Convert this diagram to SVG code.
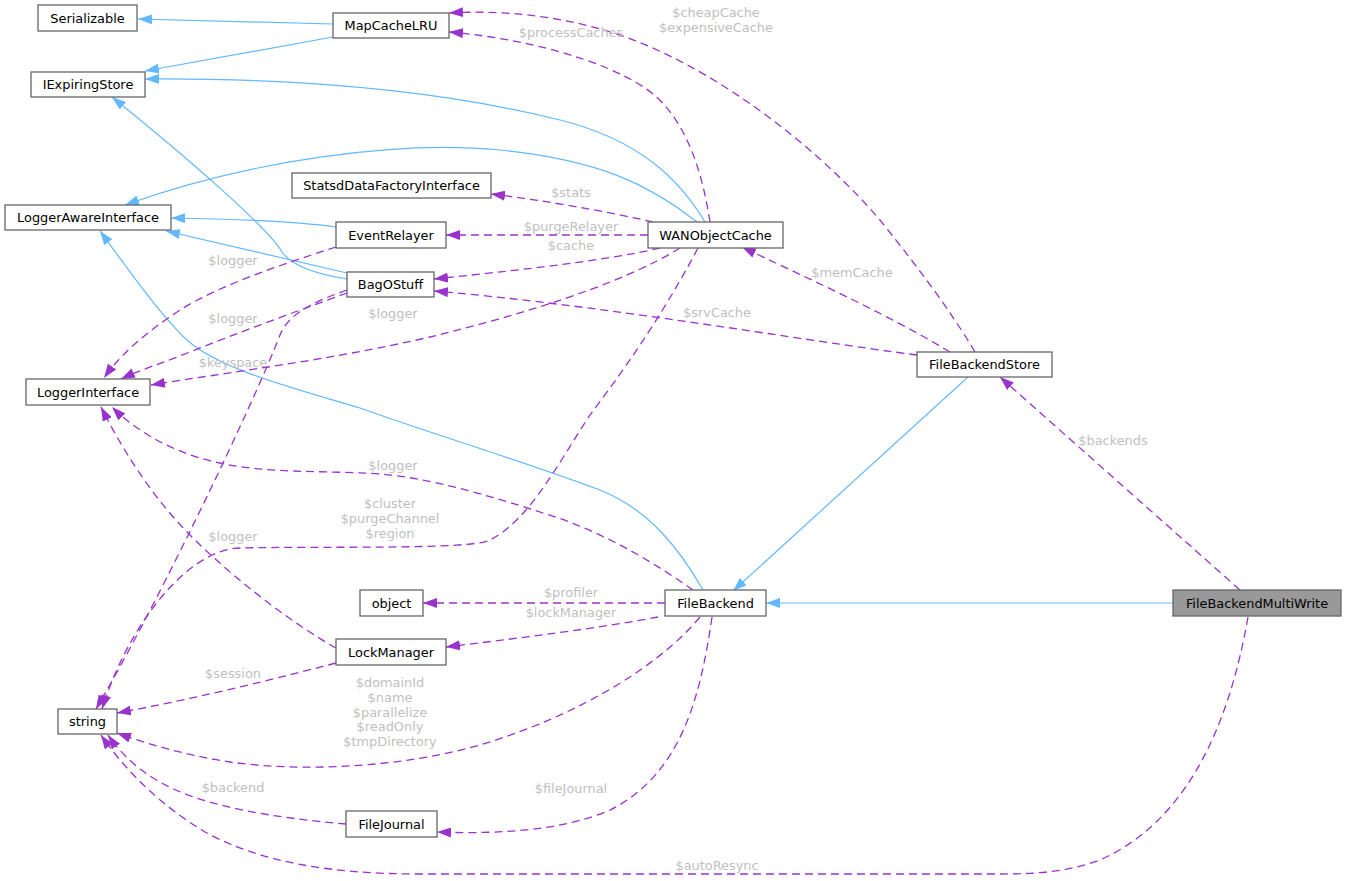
<svg xmlns="http://www.w3.org/2000/svg" width="1347" height="881" viewBox="0 0 1347 881">
<style>
.n rect{fill:#ffffff;stroke:#666666;stroke-width:1.3}
.n text{font-family:"DejaVu Sans",sans-serif;font-size:12.9px;fill:#000000;text-anchor:middle}
.hl rect{fill:#999999}
.e path{fill:none}
.inh{stroke:#63b8ff;stroke-width:1.2;marker-end:url(#ab)}
.use{stroke:#9a32cd;stroke-width:1.3;stroke-dasharray:8,5;marker-end:url(#ap)}
.lbl{font-family:"DejaVu Sans",sans-serif;font-size:12.9px;fill:#c0c0c0;text-anchor:middle}
</style>
<defs>
<marker id="ab" markerWidth="14" markerHeight="10" refX="14" refY="5" orient="auto" markerUnits="userSpaceOnUse"><path d="M0,0 L14,5 L0,10 z" fill="#63b8ff"/></marker>
<marker id="ap" markerWidth="14" markerHeight="10" refX="14" refY="5" orient="auto" markerUnits="userSpaceOnUse"><path d="M0,0 L14,5 L0,10 z" fill="#9a32cd"/></marker>
</defs>
<rect x="0" y="0" width="1347" height="881" fill="#ffffff"/>
<g id="edges" class="e">
<path class="inh" d="M333,24 L138,19"/>
<path class="inh" d="M333,37 L145,71"/>
<path class="inh" d="M705,222 C680,180 640,140 560,120 C440,90 300,78 145,79"/>
<path class="inh" d="M697,222 C650,185 600,160 500,150 C400,140 250,160 125,205"/>
<path class="inh" d="M336,227 C300,222 240,219 171,218"/>
<path class="inh" d="M347,273 L166,231"/>
<path class="inh" d="M347,279 C315,274 292,266 282,252 C268,228 190,160 112,97"/>
<path class="inh" d="M703,590 C680,550 650,510 600,490 C520,460 420,430 360,408 C300,390 220,370 187,340 C160,315 125,265 100,231"/>
<path class="inh" d="M968,377 L733,591"/>
<path class="inh" d="M1173,603 L766,603"/>
<path class="use" d="M710,222 C702,170 685,115 645,88 C600,58 520,38 449,32"/>
<path class="use" d="M975,352 C950,310 920,270 880,220 C820,150 720,70 620,35 C560,15 500,10 449,13"/>
<path class="use" d="M653,222 C600,210 540,200 491,194"/>
<path class="use" d="M648,235 L446,235"/>
<path class="use" d="M660,248 C600,262 500,272 434,279"/>
<path class="use" d="M917,355 C800,340 600,305 434,291"/>
<path class="use" d="M950,352 C880,310 800,275 742,247"/>
<path class="use" d="M680,248 C620,285 520,315 430,337 C330,360 230,372 151,385"/>
<path class="use" d="M336,247 C280,265 220,285 180,310 C145,333 120,355 104,378"/>
<path class="use" d="M347,293 C300,310 240,332 190,352 C165,362 140,370 121,379"/>
<path class="use" d="M347,290 C310,303 288,315 280,335 C255,400 160,600 96,709"/>
<path class="use" d="M698,248 C660,320 620,375 590,415 C560,460 530,520 490,540 C470,550 330,546 240,548 C190,549 130,620 102,709"/>
<path class="use" d="M693,590 C650,560 600,530 540,512 C490,496 430,478 380,474 C320,470 270,474 220,463 C180,455 140,435 112,407"/>
<path class="use" d="M336,648 C300,628 240,585 190,535 C150,495 120,445 101,407"/>
<path class="use" d="M665,603 L423,603"/>
<path class="use" d="M658,617 C600,628 520,638 446,647"/>
<path class="use" d="M700,617 C660,665 580,715 480,745 C400,768 300,772 230,762 C190,756 150,745 117,733"/>
<path class="use" d="M336,663 C290,675 200,698 117,713"/>
<path class="use" d="M712,617 C700,700 680,775 610,810 C560,832 490,834 437,832"/>
<path class="use" d="M346,824 C300,820 230,812 183,793 C150,780 125,760 108,735"/>
<path class="use" d="M1248,617 C1230,720 1190,820 1100,860 C1060,875 1020,874 980,874 L420,874 C330,874 260,862 205,832 C160,805 125,770 101,735"/>
<path class="use" d="M1240,590 L1000,377"/>
<text class="lbl" x="571" y="37">$processCaches</text>
<text class="lbl" x="716" y="17">$cheapCache</text>
<text class="lbl" x="716" y="32">$expensiveCache</text>
<text class="lbl" x="571" y="197">$stats</text>
<text class="lbl" x="571" y="231">$purgeRelayer</text>
<text class="lbl" x="571" y="250">$cache</text>
<text class="lbl" x="852" y="277">$memCache</text>
<text class="lbl" x="717" y="317">$srvCache</text>
<text class="lbl" x="233" y="265">$logger</text>
<text class="lbl" x="233" y="323">$logger</text>
<text class="lbl" x="393" y="318">$logger</text>
<text class="lbl" x="233" y="367">$keyspace</text>
<text class="lbl" x="393" y="470">$logger</text>
<text class="lbl" x="390" y="508">$cluster</text>
<text class="lbl" x="390" y="523">$purgeChannel</text>
<text class="lbl" x="390" y="538">$region</text>
<text class="lbl" x="233" y="541">$logger</text>
<text class="lbl" x="1113" y="445">$backends</text>
<text class="lbl" x="571" y="597">$profiler</text>
<text class="lbl" x="571" y="617">$lockManager</text>
<text class="lbl" x="390" y="687">$domainId</text>
<text class="lbl" x="390" y="702">$name</text>
<text class="lbl" x="390" y="717">$parallelize</text>
<text class="lbl" x="390" y="731">$readOnly</text>
<text class="lbl" x="390" y="746">$tmpDirectory</text>
<text class="lbl" x="233" y="678">$session</text>
<text class="lbl" x="233" y="792">$backend</text>
<text class="lbl" x="571" y="793">$fileJournal</text>
<text class="lbl" x="717" y="870">$autoResync</text>
</g>
<g id="Serializable" class="n"><rect x="38" y="5" width="99" height="26"/><text x="87.5" y="22.5">Serializable</text></g>
<g id="MapCacheLRU" class="n"><rect x="333" y="13" width="116" height="25"/><text x="391" y="30">MapCacheLRU</text></g>
<g id="IExpiringStore" class="n"><rect x="31" y="72" width="114" height="25"/><text x="88" y="89">IExpiringStore</text></g>
<g id="StatsdDataFactoryInterface" class="n"><rect x="292" y="173" width="199" height="25"/><text x="391.5" y="190">StatsdDataFactoryInterface</text></g>
<g id="LoggerAwareInterface" class="n"><rect x="5" y="205" width="166" height="25"/><text x="88" y="222">LoggerAwareInterface</text></g>
<g id="EventRelayer" class="n"><rect x="336" y="222" width="110" height="26"/><text x="391" y="239.5">EventRelayer</text></g>
<g id="WANObjectCache" class="n"><rect x="648" y="222" width="135" height="26"/><text x="715.5" y="239.5">WANObjectCache</text></g>
<g id="BagOStuff" class="n"><rect x="347" y="272" width="87" height="25"/><text x="390.5" y="289">BagOStuff</text></g>
<g id="FileBackendStore" class="n"><rect x="917" y="352" width="135" height="25"/><text x="984.5" y="369">FileBackendStore</text></g>
<g id="LoggerInterface" class="n"><rect x="26" y="379" width="124" height="26"/><text x="88" y="396.5">LoggerInterface</text></g>
<g id="object" class="n"><rect x="360" y="590" width="63" height="26"/><text x="391.5" y="607.5">object</text></g>
<g id="FileBackend" class="n"><rect x="665" y="590" width="101" height="26"/><text x="715.5" y="607.5">FileBackend</text></g>
<g id="FileBackendMultiWrite" class="n hl"><rect x="1173" y="590" width="168" height="26"/><text x="1257" y="607.5">FileBackendMultiWrite</text></g>
<g id="LockManager" class="n"><rect x="336" y="639" width="110" height="26"/><text x="391" y="656.5">LockManager</text></g>
<g id="string" class="n"><rect x="58" y="709" width="59" height="25"/><text x="87.5" y="726">string</text></g>
<g id="FileJournal" class="n"><rect x="346" y="811" width="91" height="26"/><text x="391.5" y="828.5">FileJournal</text></g>
</svg>
